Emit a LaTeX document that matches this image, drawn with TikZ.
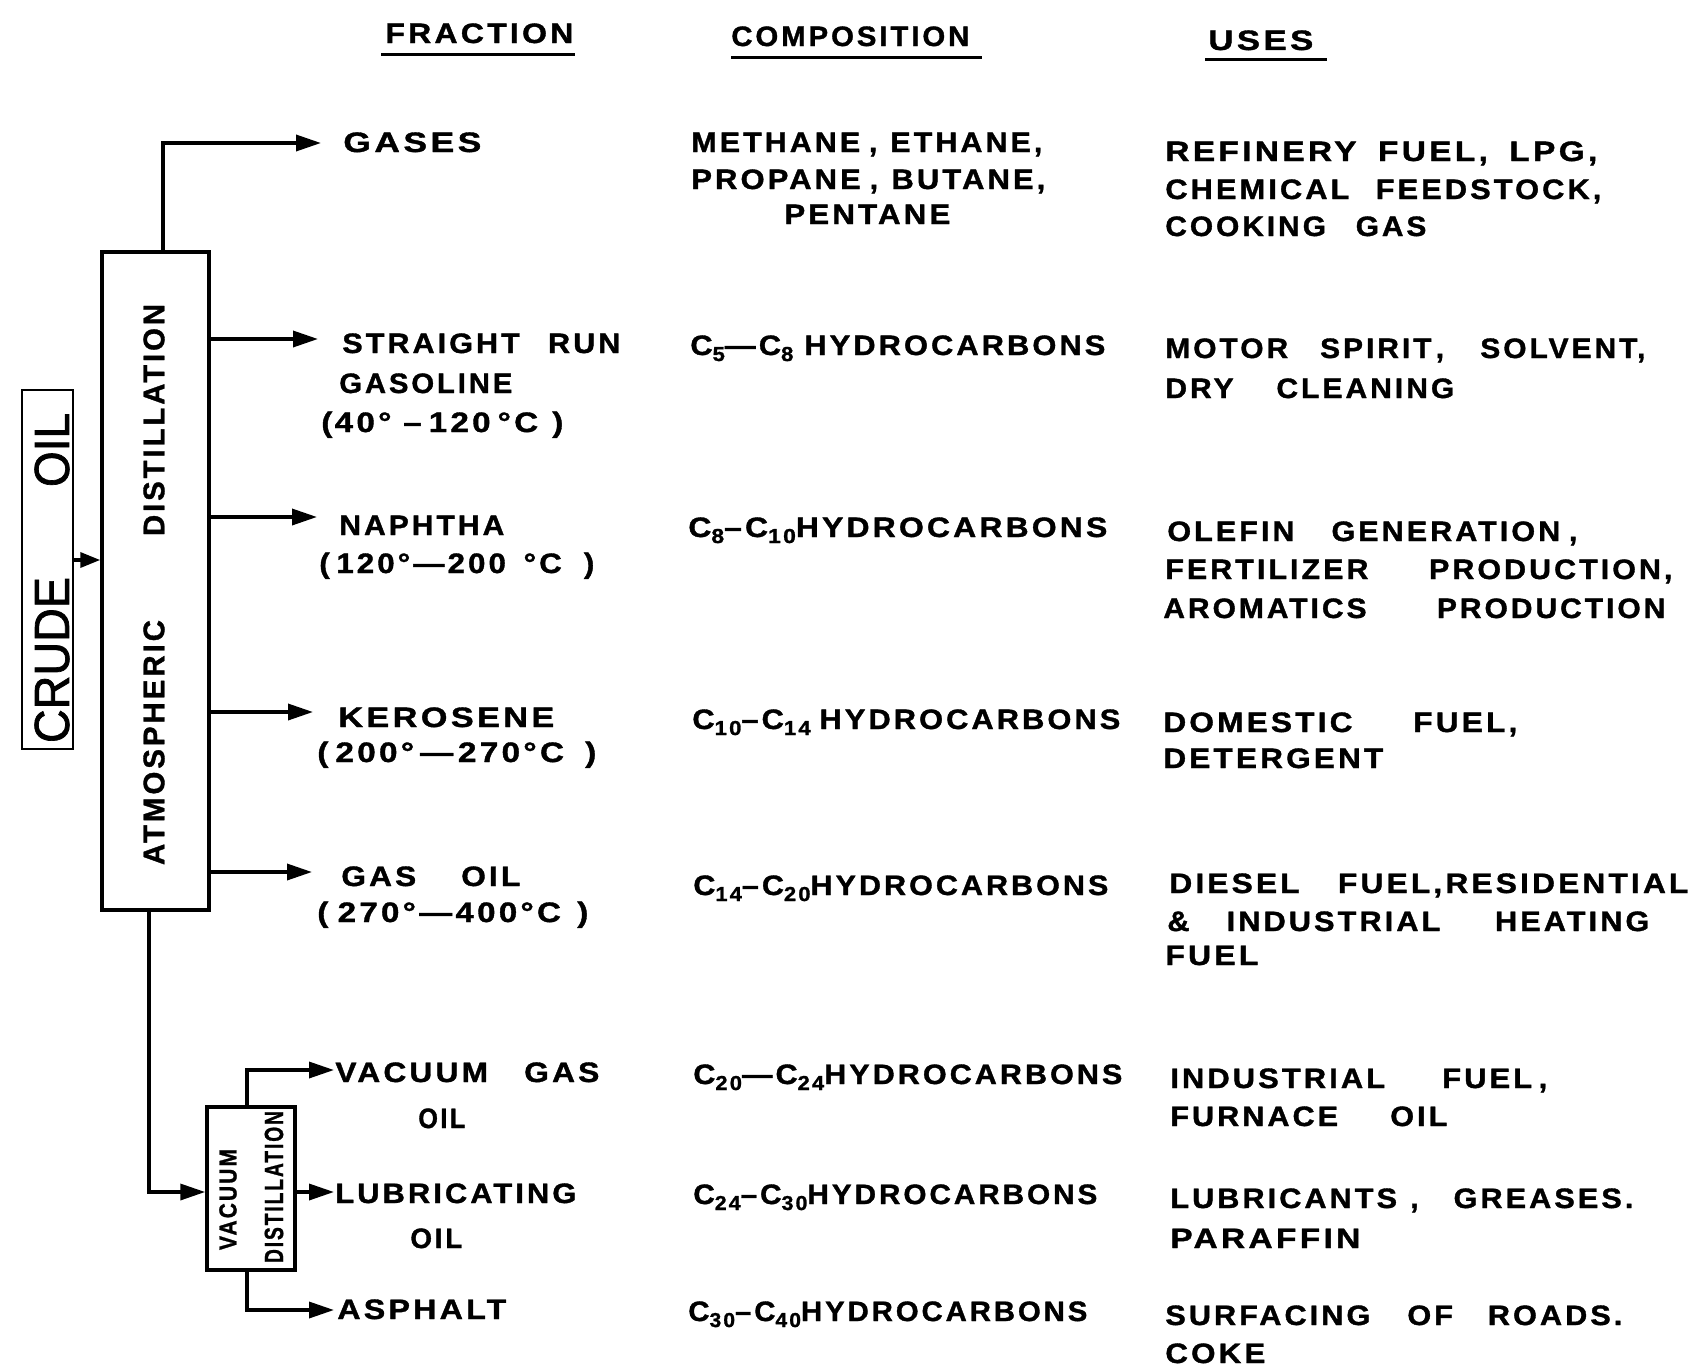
\documentclass[tikz,border=0pt]{standalone}
\usepackage{fontspec}
\setmainfont{Liberation Sans}[LetterSpace=10, BoldFeatures={FakeBold=1.2}]
\newfontfamily\crudefont{Liberation Sans}[FakeBold=1.5]
\usepackage{graphicx}
\usetikzlibrary{arrows.meta,calc}
\newlength\du
\setlength\du{0.02cm}
\newcommand\fitw[2]{\resizebox{#1\du}{\height}{#2}}
\newcommand\wgap[1]{\hspace*{#1\du}}
\newcommand\csub[1]{\raisebox{-6\du}{\fontsize{11.5}{12}\selectfont #1}}
\tikzset{
  lab/.style={inner sep=0pt, anchor=base west, font=\fontsize{16}{19}\selectfont\bfseries},
  conn/.style={line width=0.07cm, -{Triangle[length=0.5cm,width=0.32cm]}},
  shortconn/.style={line width=0.07cm, -{Triangle[length=0.4cm,width=0.3cm]}},
  boxs/.style={draw, line width=0.07cm, inner sep=0pt},
  ul/.style={line width=0.06cm},
  vtext/.style={rotate=90, inner sep=0pt}
}
\begin{document}
\begin{tikzpicture}[x=0.02cm,y=-0.02cm]
\useasboundingbox[fill=white] (0,0) rectangle (1700,1369);
% boxes
\node[boxs, minimum width=107\du, minimum height=658\du] (atm) at (155.5,581) {};
\node[boxs, line width=0.05cm, minimum width=51\du, minimum height=359\du] (crude) at (47.5,569.5) {};
\node[boxs, minimum width=88\du, minimum height=163\du] (vac) at (251,1188.5) {};
% box texts
\node[vtext, font=\fontsize{17}{20}\selectfont\bfseries] (atmtxt) at (154,584.5) {\fitw{245}{ATMOSPHERIC}\wgap{84}\fitw{232}{DISTILLATION}};
\node[vtext, font=\fontsize{28}{30}\crudefont] (crudetxt) at (52,578) {\fitw{166}{CRUDE}\wgap{90}\fitw{74}{OIL}};
\node[vtext, font=\fontsize{14}{16}\selectfont\bfseries] (vactxta) at (228,1199.5) {\fitw{101}{VACUUM}};
\node[vtext, font=\fontsize{15}{17}\selectfont\bfseries] (vactxtb) at (274,1187) {\fitw{152}{DISTILLATION}};
% headers
\node[lab] (hfr) at (385,43) {\fitw{188}{FRACTION}};
\node[lab] (hco) at (731,46) {\fitw{238}{COMPOSITION}};
\node[lab] (hus) at (1208,50) {\fitw{105}{USES}};
\draw[ul] ($(hfr.base west)+(-4,11)$) -- ($(hfr.base east)+(1,11)$);
\draw[ul] ($(hco.base west)+(0,11)$) -- ($(hco.base east)+(12,11)$);
\draw[ul] ($(hus.base west)+(-3,9)$) -- ($(hus.base east)+(13,9)$);
% fractions
\node[lab] (fgas) at (343,152) {\fitw{138}{GASES}};
\node[lab] (fsra) at (342,353) {\fitw{278}{STRAIGHT\wgap{26}RUN}};
\node[lab] (fsrb) at (339,393) {\fitw{173}{GASOLINE}};
\node[lab] (fsrc) at (321,432) {\fitw{242}{(\wgap{2}40°\wgap{10}–\wgap{6}120\wgap{6}°C\wgap{12})}};
\node[lab] (fnaa) at (339,535) {\fitw{165}{NAPHTHA}};
\node[lab] (fnab) at (319,573) {\fitw{275}{(\wgap{6}120°—200\wgap{16}°C\wgap{20})}};
\node[lab] (fkea) at (338,727) {\fitw{216}{KEROSENE}};
\node[lab] (fkeb) at (317,762) {\fitw{279}{(\wgap{6}200°\wgap{5}—\wgap{4}270°C\wgap{18})}};
\node[lab] (fgoa) at (341,886) {\fitw{179}{GAS\wgap{40}OIL}};
\node[lab] (fgob) at (317,922) {\fitw{271}{(\wgap{8}270°—400°C\wgap{14})}};
\node[lab] (fvga) at (335,1082) {\fitw{264}{VACUUM\wgap{32}GAS}};
\node[lab] (fvgb) at (418,1128) {\fitw{47}{OIL}};
\node[lab] (flua) at (335,1203) {\fitw{241}{LUBRICATING}};
\node[lab] (flub) at (410,1248) {\fitw{52}{OIL}};
\node[lab] (fas) at (337,1319) {\fitw{169}{ASPHALT}};
% compositions
\node[lab] (cgaa) at (691,152) {\fitw{351}{METHANE\wgap{8},\wgap{12}ETHANE,}};
\node[lab] (cgab) at (691,189) {\fitw{354}{PROPANE\wgap{8},\wgap{12}BUTANE,}};
\node[lab] (cgac) at (784,224) {\fitw{166}{PENTANE}};
\node[lab] (csr) at (690,355) {\fitw{415}{C\csub{5}—C\csub{8}\wgap{10}HYDROCARBONS}};
\node[lab] (cna) at (688,537) {\fitw{419}{C\csub{8}–C\csub{10}HYDROCARBONS}};
\node[lab] (cke) at (692,729) {\fitw{428}{C\csub{10}–C\csub{14}\wgap{8}HYDROCARBONS}};
\node[lab] (cgo) at (693,895) {\fitw{415}{C\csub{14}–C\csub{20}HYDROCARBONS}};
\node[lab] (cvg) at (693,1084) {\fitw{429}{C\csub{20}—C\csub{24}HYDROCARBONS}};
\node[lab] (clu) at (693,1204) {\fitw{404}{C\csub{24}–C\csub{30}HYDROCARBONS}};
\node[lab] (cas) at (688,1321) {\fitw{399}{C\csub{30}–C\csub{40}HYDROCARBONS}};
% uses
\node[lab] (ugaa) at (1165,161) {\fitw{432}{REFINERY\wgap{18}FUEL,\wgap{18}LPG,}};
\node[lab] (ugab) at (1165,199) {\fitw{436}{CHEMICAL\wgap{24}FEEDSTOCK,}};
\node[lab] (ugac) at (1165,236) {\fitw{261}{COOKING\wgap{28}GAS}};
\node[lab] (usra) at (1165,358) {\fitw{480}{MOTOR\wgap{30}SPIRIT\wgap{4},\wgap{34}SOLVENT,}};
\node[lab] (usrb) at (1165,398) {\fitw{289}{DRY\wgap{40}CLEANING}};
\node[lab] (unaa) at (1167,541) {\fitw{410}{OLEFIN\wgap{34}GENERATION\wgap{8},}};
\node[lab] (unab) at (1165,579) {\fitw{507}{FERTILIZER\wgap{56}PRODUCTION,}};
\node[lab] (unac) at (1163,618) {\fitw{502}{AROMATICS\wgap{66}PRODUCTION}};
\node[lab] (ukea) at (1163,732) {\fitw{354}{DOMESTIC\wgap{54}FUEL,}};
\node[lab] (ukeb) at (1163,768) {\fitw{220}{DETERGENT}};
\node[lab] (ugoa) at (1169,893) {\fitw{519}{DIESEL\wgap{34}FUEL,RESIDENTIAL}};
\node[lab] (ugob) at (1167,931) {\fitw{482}{\&\wgap{34}INDUSTRIAL\wgap{50}HEATING}};
\node[lab] (ugoc) at (1165,965) {\fitw{93}{FUEL}};
\node[lab] (uvga) at (1170,1088) {\fitw{377}{INDUSTRIAL\wgap{52}FUEL\wgap{6},}};
\node[lab] (uvgb) at (1170,1126) {\fitw{277}{FURNACE\wgap{48}OIL}};
\node[lab] (ulua) at (1170,1208) {\fitw{463}{LUBRICANTS\wgap{12},\wgap{32}GREASES.}};
\node[lab] (ulub) at (1170,1248) {\fitw{190}{PARAFFIN}};
\node[lab] (uasa) at (1165,1325) {\fitw{457}{SURFACING\wgap{34}OF\wgap{32}ROADS.}};
\node[lab] (uasb) at (1165,1363) {\fitw{100}{COKE}};
% connectors
\coordinate (rgas) at (163,143);
\coordinate (tgas) at (321,143);
\draw[conn] (atm.north -| rgas) -- (rgas) -- (tgas);
\coordinate (tsr) at (318,339);
\draw[conn] (atm.east |- tsr) -- (tsr);
\coordinate (tna) at (317,517);
\draw[conn] (atm.east |- tna) -- (tna);
\coordinate (tke) at (313,712);
\draw[conn] (atm.east |- tke) -- (tke);
\coordinate (tgo) at (312,872);
\draw[conn] (atm.east |- tgo) -- (tgo);
\coordinate (cin) at (75,560);
\draw[shortconn] (crude.east |- cin) -- (atm.west |- cin);
\coordinate (rbot) at (149,1192);
\draw[conn] (atm.south -| rbot) -- (rbot) -- (vac.west |- rbot);
\coordinate (rvt) at (247,1070);
\coordinate (tvt) at (334,1070);
\draw[conn] (vac.north -| rvt) -- (rvt) -- (tvt);
\coordinate (tvm) at (334,1192);
\draw[conn] (vac.east |- tvm) -- (tvm);
\coordinate (rvb) at (247,1310);
\coordinate (tvb) at (334,1310);
\draw[conn] (vac.south -| rvb) -- (rvb) -- (tvb);
\end{tikzpicture}
\end{document}
